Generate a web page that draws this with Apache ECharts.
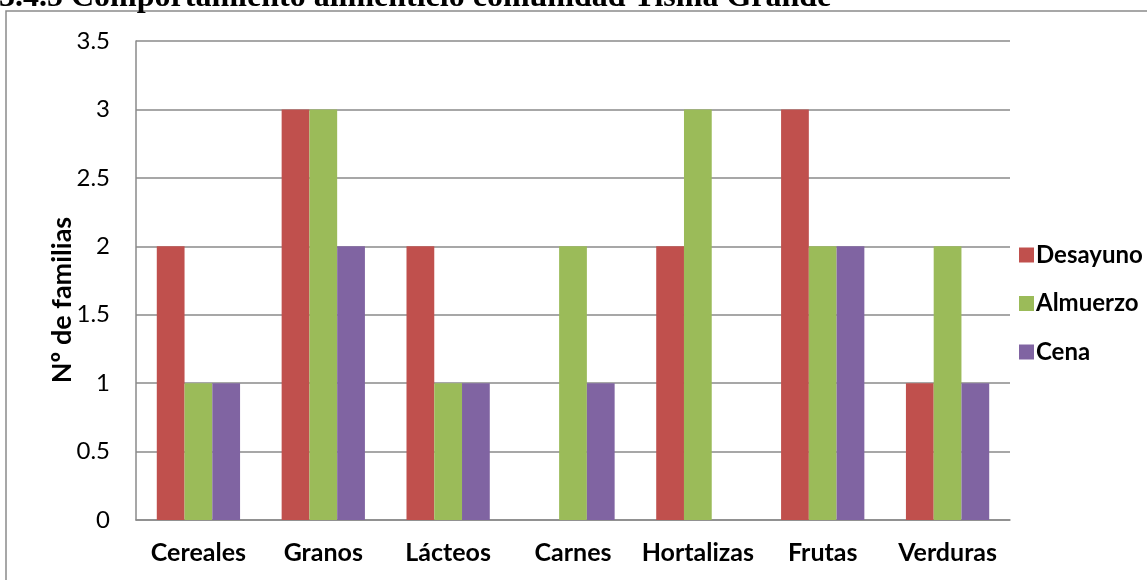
<!DOCTYPE html>
<html>
<head>
<meta charset="utf-8">
<script src="https://cdn.jsdelivr.net/npm/echarts@6/dist/echarts.min.js"></script>
<style>
html,body{margin:0;padding:0;background:#fff;}
#chart{width:1147px;height:580px;}
</style>
</head>
<body>
<div id="chart"></div>
<script>
const categories = ['Cereales', 'Granos', 'Lácteos', 'Carnes', 'Hortalizas', 'Frutas', 'Verduras'];
const desayuno = [2, 3, 2, 0, 2, 3, 1];
const almuerzo = [1, 3, 1, 2, 3, 2, 2];
const cena = [1, 2, 1, 1, 0, 2, 1];
const seriesNames = ['Desayuno', 'Almuerzo', 'Cena'];
const colors = ['#C0504D', '#9BBB59', '#8064A2'];
const titleText = '3.4.5 Comportamiento alimenticio comunidad Tisma Grande';
const yAxisTitle = 'Nº de familias';

const FONT = 'Lato, "Open Sans", sans-serif';
const chart = echarts.init(document.getElementById('chart'), null, {renderer: 'canvas'});
const mk = (name, data, i) => ({
  name: name, type: 'bar', data: data,
  itemStyle: {color: colors[i]},
  barGap: '0%', barCategoryGap: '33.3%'
});
chart.setOption({
  animation: false,
  color: colors,
  grid: {left: 136, right: 137, top: 41, bottom: 60, containLabel: false},
  xAxis: {
    type: 'category', data: categories,
    axisLine: {show: true, lineStyle: {color: '#8a8a8a', width: 1.5}},
    axisTick: {show: false},
    axisLabel: {interval: 0, color: '#000', fontFamily: FONT, fontWeight: 'bold', fontSize: 25, margin: 20}
  },
  yAxis: {
    type: 'value', min: 0, max: 3.5, interval: 0.5,
    axisLine: {show: true, lineStyle: {color: '#8a8a8a', width: 1.5}},
    axisTick: {show: false},
    splitLine: {show: true, lineStyle: {color: '#8a8a8a', width: 1.5}},
    axisLabel: {color: '#000', fontFamily: FONT, fontSize: 24, margin: 26}
  },
  legend: {
    orient: 'vertical', left: 1014, top: 238,
    itemWidth: 15, itemHeight: 15, itemGap: 24.5,
    icon: 'rect',
    data: seriesNames,
    textStyle: {color: '#000', fontFamily: FONT, fontWeight: 'bold', fontSize: 24, lineHeight: 24, padding: [0, 0, 0, -3]}
  },
  graphic: [
    {type: 'rect', shape: {x: 6, y: 11, width: 1300, height: 700}, style: {fill: 'none', stroke: '#8a8a8a', lineWidth: 1.5}, silent: true},
    {type: 'text', x: -1, y: 14, style: {text: titleText, font: 'bold 32px "Liberation Serif", serif', fill: '#000', verticalAlign: 'bottom', align: 'left'}, silent: true},
    {type: 'text', x: 62, y: 300, rotation: Math.PI / 2, style: {text: yAxisTitle, font: 'bold 27px Lato, "Open Sans", sans-serif', fill: '#000', align: 'center', verticalAlign: 'middle'}, silent: true}
  ],
  series: [mk(seriesNames[0], desayuno, 0), mk(seriesNames[1], almuerzo, 1), mk(seriesNames[2], cena, 2)]
});
</script>
</body>
</html>
